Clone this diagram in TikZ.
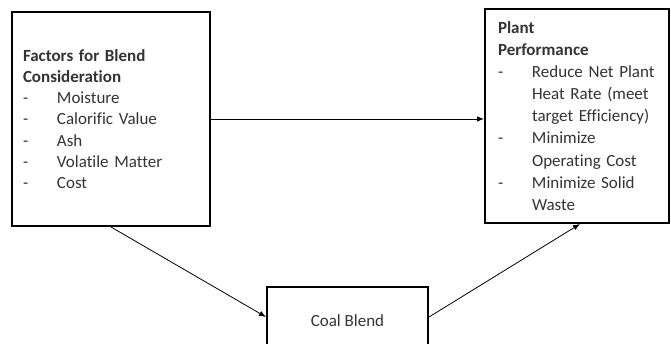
\documentclass[tikz,border=0pt]{standalone}
\usepackage{fontspec}
\setmainfont[Ligatures=CommonOff]{Carlito}
\usepackage{tikz}
\usetikzlibrary{positioning}
\usetikzlibrary{arrows.meta}
\definecolor{textgray}{gray}{0.2}
\newcommand{\dsh}{\makebox[34pt][l]{-}}
\newcommand{\cnt}{\hspace*{34pt}}

\begin{document}
\begin{tikzpicture}[
x=1pt, y=1pt,
box/.style={draw, line width=2pt, align=left, text=textgray, inner ysep=0pt,
  font=\fontsize{17}{21.3}\selectfont},
con/.style={-{Latex[length=7pt,width=5.5pt]}, line width=0.8pt}
]
% Rahmen
\useasboundingbox (0,0) rectangle (671,343);

% Kasten links
\node[box, inner xsep=11pt, text width=176pt, minimum height=214pt] (fac) at (111,224)
{\textbf{Factors for Blend}\\ \textbf{Consideration}\\
\dsh Moisture\\ \dsh Calorific Value\\ \dsh Ash\\ \dsh Volatile Matter\\ \dsh Cost};

% Kasten rechts
\node[box, inner xsep=13pt, text width=158pt, minimum height=214pt,
  font=\fontsize{17}{22.1}\selectfont] (perf) at (577,227)
{\textbf{Plant}\\ \textbf{Performance}\\
\dsh Reduce Net Plant\\ \cnt Heat Rate (meet\\ \cnt target Efficiency)\\
\dsh Minimize\\ \cnt Operating Cost\\ \dsh Minimize Solid\\ \cnt Waste};

% Kasten unten
\node[box, align=center, minimum width=161pt, minimum height=68pt] (blend) at (347.5,22) {Coal Blend};

% Pfeile
\draw[con] (fac.east) -- (fac.east -| perf.west);
\draw[con] (fac.south) -- ([yshift=4pt]blend.west);
\draw[con] ([yshift=4pt]blend.east) -- ([xshift=3pt]perf.south);
\end{tikzpicture}
\end{document}
